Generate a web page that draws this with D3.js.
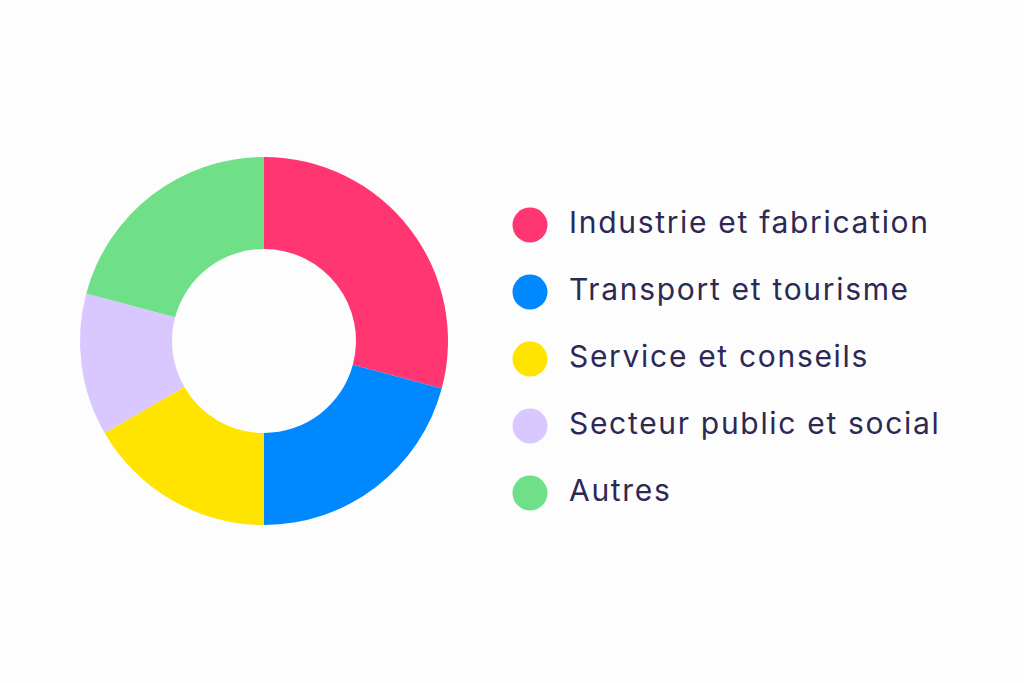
<!DOCTYPE html>
<html>
<head>
<meta charset="utf-8">
<script src="https://cdn.jsdelivr.net/npm/d3@7"></script>
<style>
  html, body { margin: 0; padding: 0; background: #fdfdfd; }
  svg { display: block; }
</style>
</head>
<body>
<svg id="chart" width="1024" height="683"></svg>
<script>
const categories = ["Industrie et fabrication", "Transport et tourisme", "Service et conseils", "Secteur public et social", "Autres"];
const values = [7, 5, 4, 3, 5];
const colors = ["#ff3671", "#0088ff", "#ffe400", "#d9c8ff", "#6fe088"];

const svg = d3.select("#chart");
svg.append("rect").attr("width", 1024).attr("height", 683).attr("fill", "#fdfdfd");

const cx = 264, cy = 341, outerR = 184, innerR = 92;

const pie = d3.pie().value(d => d).sort(null);
const arc = d3.arc().innerRadius(innerR).outerRadius(outerR);
const color = d3.scaleOrdinal().domain(categories).range(colors);

const g = svg.append("g").attr("transform", `translate(${cx},${cy})`);
g.selectAll("path")
  .data(pie(values))
  .join("path")
  .attr("d", arc)
  .attr("fill", (d, i) => color(categories[i]));

const y = d3.scalePoint().domain(categories).range([225, 493]);

const legend = svg.append("g");
const items = legend.selectAll("g")
  .data(categories)
  .join("g")
  .attr("transform", d => `translate(0,${y(d)})`);

items.append("circle")
  .attr("cx", 530)
  .attr("cy", 0)
  .attr("r", 17.5)
  .attr("fill", d => color(d));

items.append("text")
  .attr("x", 569)
  .attr("y", 8)
  .attr("font-family", "Inter, 'Noto Sans', sans-serif")
  .attr("font-size", 30)
  .attr("fill", "#2d2955")
  .text(d => d);

// match reference width of the longest label (~359px) with letter spacing
const first = items.select("text").node();
const w = first.getComputedTextLength();
const ls = (359 - w) / (categories[0].length - 1);
items.selectAll("text").attr("letter-spacing", ls);
</script>
</body>
</html>
